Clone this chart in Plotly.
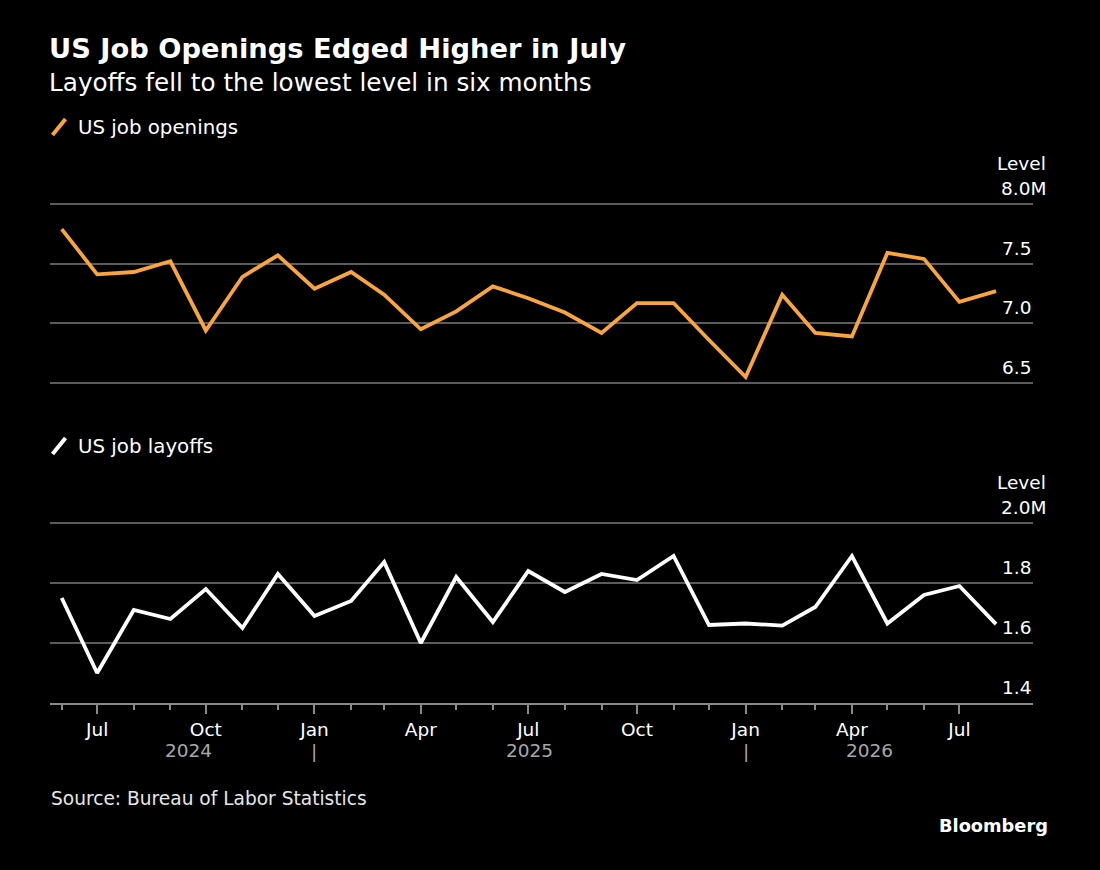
import plotly.graph_objects as go

# ---------------- data ----------------
months = ["2024-06-01", "2024-07-01", "2024-08-01", "2024-09-01", "2024-10-01", "2024-11-01",
          "2024-12-01", "2025-01-01", "2025-02-01", "2025-03-01", "2025-04-01", "2025-05-01",
          "2025-06-01", "2025-07-01", "2025-08-01", "2025-09-01", "2025-10-01", "2025-11-01",
          "2025-12-01", "2026-01-01", "2026-02-01", "2026-03-01", "2026-04-01", "2026-05-01",
          "2026-06-01", "2026-07-01", "2026-08-01"]
openings = [7.79, 7.41, 7.43, 7.52, 6.94, 7.39, 7.57, 7.29, 7.43, 7.24, 6.95, 7.10,
            7.31, 7.21, 7.09, 6.92, 7.17, 7.17, 6.86, 6.55, 7.24, 6.92, 6.89, 7.59,
            7.54, 7.18, 7.27]
layoffs = [1.75, 1.50, 1.71, 1.68, 1.78, 1.65, 1.83, 1.69, 1.74, 1.87, 1.60, 1.82,
           1.67, 1.84, 1.77, 1.83, 1.81, 1.89, 1.66, 1.665, 1.658, 1.72, 1.89, 1.665,
           1.76, 1.79, 1.663]
open_ticks = [6.5, 7.0, 7.5, 8.0]
open_tick_text = ["6.5", "7.0", "7.5", "8.0"]
lay_ticks = [1.4, 1.6, 1.8, 2.0]
lay_tick_text = ["1.4", "1.6", "1.8", "2.0"]
month_tick_dates = months[:-1]
year_labels = ["2024", "2025", "2026"]
year_label_dates = ["2024-09-16", "2025-07-02", "2026-04-16"]
year_breaks = ["2025-01-01", "2026-01-01"]

title = "US Job Openings Edged Higher in July"
subtitle = "Layoffs fell to the lowest level in six months"
source = "Source: Bureau of Labor Statistics"

# ---------------- style ----------------
W, H = 1100, 870
FONT = "DejaVu Sans"
ORANGE = "#f9a43c"
WHITE = "#ffffff"
GRID = "#5c5c5c"
AXIS = "#8a8a8a"
GREY_TXT = "#a8a8a8"
TICK_SIZE = 18.5


def py(px):
    return (H - px) / H


def px_x(px):
    return (px - 50) / (1033 - 50)


x_range = ["2024-05-22 02:00", "2026-09-01 07:00"]

fig = go.Figure()
fig.add_trace(go.Scatter(x=months, y=openings, mode="lines", xaxis="x", yaxis="y",
                         line=dict(color=ORANGE, width=3.8), hoverinfo="x+y", showlegend=False))
fig.add_trace(go.Scatter(x=months, y=layoffs, mode="lines", xaxis="x2", yaxis="y2",
                         line=dict(color=WHITE, width=3.8), hoverinfo="x+y", showlegend=False))

annotations = []
# title / subtitle
annotations.append(dict(text="<b>" + title + "</b>", x=px_x(47), y=py(48), xref="paper", yref="paper",
                        xanchor="left", yanchor="middle", showarrow=False,
                        font=dict(family=FONT, size=27.3, color=WHITE)))
annotations.append(dict(text=subtitle, x=px_x(47), y=py(82), xref="paper", yref="paper",
                        xanchor="left", yanchor="middle", showarrow=False,
                        font=dict(family=FONT, size=24.7, color=WHITE)))
# legends
annotations.append(dict(text="US job openings", x=px_x(76), y=py(127), xref="paper", yref="paper",
                        xanchor="left", yanchor="middle", showarrow=False,
                        font=dict(family=FONT, size=19.8, color=WHITE)))
annotations.append(dict(text="US job layoffs", x=px_x(76), y=py(446), xref="paper", yref="paper",
                        xanchor="left", yanchor="middle", showarrow=False,
                        font=dict(family=FONT, size=19.8, color=WHITE)))

# y tick labels (right side, above gridlines)
for yref, ticks, texts in (("y", open_ticks, open_tick_text), ("y2", lay_ticks, lay_tick_text)):
    for i, (v, t) in enumerate(zip(ticks, texts)):
        top = i == len(ticks) - 1
        annotations.append(dict(text=t + ("M" if top else ""), x=1, y=v, xref="paper", yref=yref,
                                xanchor="right", yanchor="bottom", yshift=3,
                                xshift=15 if top else 0, showarrow=False,
                                font=dict(family=FONT, size=TICK_SIZE, color=WHITE)))
    annotations.append(dict(text="Level", x=1, y=ticks[-1], xref="paper", yref=yref,
                            xanchor="right", yanchor="bottom", yshift=28, xshift=15, showarrow=False,
                            font=dict(family=FONT, size=TICK_SIZE, color=WHITE)))

# year labels and separators
for lab, d in zip(year_labels, year_label_dates):
    annotations.append(dict(text=lab, x=d, y=py(750), xref="x2", yref="paper",
                            xanchor="center", yanchor="middle", showarrow=False,
                            font=dict(family=FONT, size=TICK_SIZE, color=GREY_TXT)))
for d in year_breaks:
    annotations.append(dict(text="|", x=d, y=py(751), xref="x2", yref="paper",
                            xanchor="center", yanchor="middle", showarrow=False,
                            font=dict(family=FONT, size=TICK_SIZE, color=GREY_TXT)))

# source and brand
annotations.append(dict(text=source, x=px_x(49), y=py(798), xref="paper", yref="paper",
                        xanchor="left", yanchor="middle", showarrow=False,
                        font=dict(family=FONT, size=18.6, color="#e6e6e6")))
annotations.append(dict(text="<b>Bloomberg</b>", x=px_x(1050), y=py(825), xref="paper", yref="paper",
                        xanchor="right", yanchor="middle", showarrow=False,
                        font=dict(family=FONT, size=17.8, color=WHITE)))

# legend icons (slanted strokes)
shapes = [
    dict(type="line", xref="paper", yref="paper", x0=px_x(52.5), y0=py(135), x1=px_x(65.5), y1=py(119),
         line=dict(color=ORANGE, width=4)),
    dict(type="line", xref="paper", yref="paper", x0=px_x(52.5), y0=py(454), x1=px_x(65.5), y1=py(438),
         line=dict(color=WHITE, width=4)),
]

fig.update_layout(
    width=W, height=H,
    paper_bgcolor="#000000", plot_bgcolor="#000000",
    margin=dict(l=50, r=W - 1033, t=0, b=0),
    showlegend=False,
    font=dict(family=FONT, color=WHITE),
    xaxis=dict(domain=[0, 1], anchor="y", type="date", range=x_range, showgrid=False,
               showline=False, ticks="", showticklabels=False, zeroline=False, fixedrange=True),
    yaxis=dict(domain=[py(384.19), py(202.81)], anchor="x", range=[6.49, 8.01],
               tickvals=open_ticks, showticklabels=False, showgrid=True, gridcolor=GRID,
               gridwidth=1.6, zeroline=False, showline=False, ticks="", fixedrange=True),
    xaxis2=dict(domain=[0, 1], anchor="y2", type="date", range=x_range, showgrid=False,
                showline=True, linecolor=AXIS, linewidth=2,
                ticks="outside", ticklen=9, tickwidth=2, tickcolor=AXIS,
                tick0="2024-01-01", dtick="M3", tickformat="%b",
                tickfont=dict(family=FONT, size=TICK_SIZE, color=WHITE), ticklabelstandoff=0,
                minor=dict(tickmode="array", tickvals=month_tick_dates, ticks="outside", ticklen=5,
                           tickwidth=2, tickcolor=AXIS, showgrid=False),
                zeroline=False, fixedrange=True),
    yaxis2=dict(domain=[py(703), py(521.5)], anchor="x2", range=[1.4, 2.005],
                tickvals=lay_ticks, showticklabels=False, showgrid=True, gridcolor=GRID,
                gridwidth=1.6, zeroline=False, showline=False, ticks="", fixedrange=True),
    annotations=annotations,
    shapes=shapes,
    hovermode="closest",
)

fig.write_html("out.html",
               config={"displayModeBar": False},
               post_script="document.body.style.margin='0';document.body.style.overflow='hidden';"
                           "document.body.style.background='#000';")
